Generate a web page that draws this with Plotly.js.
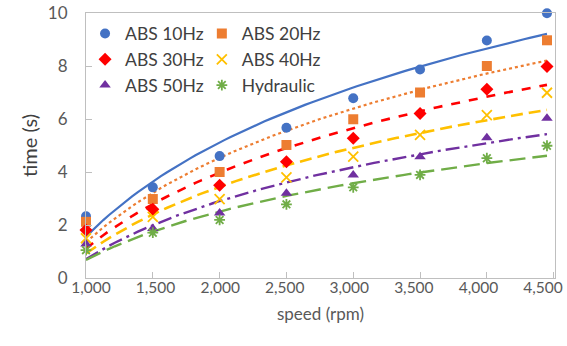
<!DOCTYPE html>
<html>
<head>
<meta charset="utf-8">
<script src="https://cdn.plot.ly/plotly-3.0.1.min.js"></script>
<style>html,body{margin:0;padding:0;background:#fff;}#chart{width:567px;height:346px;}</style>
</head>
<body>
<div id="chart"></div>
<script>
// Data
const speed = [1000, 1500, 2000, 2500, 3000, 3500, 4000, 4450];
const abs10 = [2.33, 3.42, 4.60, 5.67, 6.78, 7.87, 8.96, 9.99];
const abs20 = [2.12, 2.98, 4.00, 5.02, 5.99, 7.00, 8.00, 8.97];
const abs30 = [1.81, 2.59, 3.50, 4.39, 5.27, 6.21, 7.12, 7.98];
const abs40 = [1.50, 2.31, 2.98, 3.80, 4.58, 5.40, 6.15, 6.99];
const abs50 = [1.28, 1.87, 2.45, 3.20, 3.89, 4.58, 5.29, 6.03];
const hydraulic = [1.05, 1.71, 2.19, 2.78, 3.42, 3.89, 4.52, 4.99];
const seriesNames = ['ABS 10Hz', 'ABS 20Hz', 'ABS 30Hz', 'ABS 40Hz', 'ABS 50Hz', 'Hydraulic'];
const xTicks = [1000, 1500, 2000, 2500, 3000, 3500, 4000, 4500];
const xTickText = ['1,000', '1,500', '2,000', '2,500', '3,000', '3,500', '4,000', '4,500'];
const yTicks = [0, 2, 4, 6, 8, 10];

const allSeries = [abs10, abs20, abs30, abs40, abs50, hydraulic];
const colors = ['#4472C4', '#ED7D31', '#FF0000', '#FFC000', '#7030A0', '#70AD47'];
const symbols = ['circle', 'square', 'diamond', 'x-thin-open', 'triangle-up', 'asterisk-open'];
const msizes = [10, 10, 10, 10, 10, 9];
const dashes = ['solid', 'dot', 'dash', '12px,6px', '14px,5px,3px,5px', '16px,7px'];
const lwidths = [2.2, 2.2, 2.6, 2.6, 2.4, 2.4];
const legendFor = ['legend', 'legend2', 'legend', 'legend2', 'legend', 'legend2'];

// Logarithmic least-squares trendline (as Excel does)
function logFit(xs, ys) {
  const n = xs.length;
  const lx = xs.map(Math.log);
  const mx = lx.reduce((a, b) => a + b, 0) / n;
  const my = ys.reduce((a, b) => a + b, 0) / n;
  let sxy = 0, sxx = 0;
  for (let i = 0; i < n; i++) { sxy += (lx[i] - mx) * (ys[i] - my); sxx += (lx[i] - mx) ** 2; }
  const a = sxy / sxx, b = my - a * mx;
  const x0 = Math.min(...xs), x1 = Math.max(...xs);
  const fx = [], fy = [];
  for (let k = 0; k <= 80; k++) { const x = x0 + (x1 - x0) * k / 80; fx.push(x); fy.push(a * Math.log(x) + b); }
  return {fx, fy};
}

const traces = [];
allSeries.forEach((ys, i) => {
  const f = logFit(speed, ys);
  traces.push({
    x: f.fx, y: f.fy, type: 'scatter', mode: 'lines', showlegend: false, hoverinfo: 'skip',
    line: {color: colors[i], width: lwidths[i], dash: dashes[i]}, cliponaxis: false
  });
});
allSeries.forEach((ys, i) => {
  const isLine = symbols[i].indexOf('open') >= 0;
  traces.push({
    x: speed, y: ys, type: 'scatter', mode: 'markers', name: seriesNames[i], legend: legendFor[i],
    cliponaxis: false,
    marker: {symbol: symbols[i], size: msizes[i], color: colors[i],
      line: isLine ? {color: colors[i], width: 1.8} : {width: 0}}
  });
});

const font = 'Lato, "Open Sans", sans-serif';
const layout = {
  width: 567, height: 346,
  margin: {l: 86, r: 12, t: 13, b: 68},
  paper_bgcolor: '#fff', plot_bgcolor: '#fff',
  font: {family: font, color: '#404040'},
  showlegend: true,
  xaxis: {
    range: [1000, 4510], tickvals: xTicks, showticklabels: false,
    ticks: 'inside', ticklen: 6, tickcolor: '#BFBFBF', tickwidth: 1,
    showline: true, linecolor: '#BFBFBF', linewidth: 1, mirror: true,
    showgrid: false, zeroline: false,
    title: {text: 'speed (rpm)', font: {family: font, size: 17, color: '#595959'}, standoff: 30}
  },
  // label axis: the reference's tick labels sit slightly offset from the tick marks
  xaxis2: {
    overlaying: 'x', side: 'bottom', range: [961, 4593], tickvals: xTicks, ticktext: xTickText,
    ticks: '', showline: false, showgrid: false, zeroline: false, ticklabelstandoff: -2,
    tickfont: {family: font, size: 15.5, color: '#595959'}
  },
  yaxis: {
    range: [0, 10], tickvals: yTicks,
    ticks: 'outside', ticklen: 14, tickcolor: 'rgba(0,0,0,0)', tickwidth: 1,
    showline: true, linecolor: '#BFBFBF', linewidth: 1, mirror: true,
    showgrid: false, zeroline: false,
    tickfont: {family: font, size: 17, color: '#595959'},
    title: {text: 'time (s)', font: {family: font, size: 20, color: '#404040'}, standoff: 4}
  },
  yaxis2: {
    overlaying: 'y', matches: 'y', side: 'left', range: [0, 10], tickvals: yTicks,
    ticks: 'inside', ticklen: 6, tickcolor: '#BFBFBF', tickwidth: 1,
    showticklabels: false, showline: false, showgrid: false, zeroline: false
  },
  legend: {x: -0.002, y: 0.99, xanchor: 'left', yanchor: 'top', bgcolor: 'rgba(0,0,0,0)',
    font: {family: font, size: 17.5, color: '#404040'}, itemwidth: 30, tracegroupgap: 0},
  legend2: {x: 0.247, y: 0.99, xanchor: 'left', yanchor: 'top', bgcolor: 'rgba(0,0,0,0)',
    font: {family: font, size: 17.5, color: '#404040'}, itemwidth: 30, tracegroupgap: 0}
};

// invisible helper traces so that the overlay axes are drawn
traces.push({x: [speed[0]], y: [abs10[0]], yaxis: 'y2', type: 'scatter', mode: 'markers',
  marker: {opacity: 0}, showlegend: false, hoverinfo: 'skip'});
traces.push({x: [speed[0]], y: [abs10[0]], xaxis: 'x2', type: 'scatter', mode: 'markers',
  marker: {opacity: 0}, showlegend: false, hoverinfo: 'skip'});

Plotly.newPlot('chart', traces, layout, {staticPlot: true, displayModeBar: false});
</script>
</body>
</html>
